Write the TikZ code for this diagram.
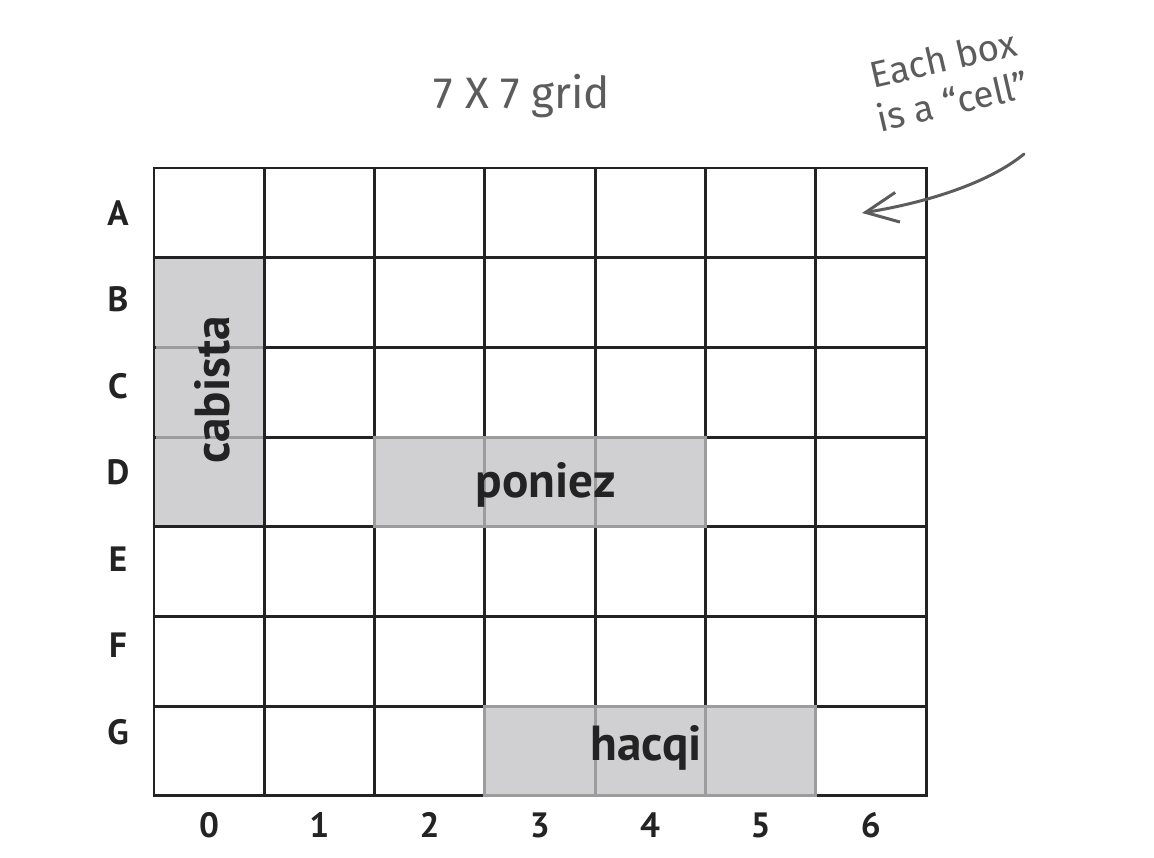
\documentclass[tikz,border=0pt]{standalone}
\usepackage{fontspec}
\setmainfont{PT Sans}
\newfontfamily\handfont{Fira Sans}
\usetikzlibrary{arrows.meta, positioning}
\definecolor{cellgray}{HTML}{D0D0D2}
\definecolor{edgegray}{HTML}{9C9C9C}
\definecolor{inkgray}{HTML}{5C5C5C}
\definecolor{gridink}{HTML}{232323}

\begin{document}
\begin{tikzpicture}[
    x=0.02cm, y=-0.02cm,
    gridline/.style={draw=gridink, line width=1.6pt},
    shipedge/.style={draw=edgegray, line width=1.6pt},
    axislabel/.style={font=\fontsize{20}{24}\selectfont\bfseries, text=gridink},
    word/.style={font=\fontsize{28}{32}\selectfont\bfseries, text=gridink},
    handnote/.style={font=\handfont\fontsize{21}{25}\selectfont, text=inkgray, align=center},
    >={Straight Barb[length=6.5mm, width=6mm]}
]

% Canvas
\useasboundingbox (0,0) rectangle (1154,858);

% Shaded cells (column/row)
\foreach \c/\r in {0/1, 0/2, 0/3, 2/3, 3/3, 4/3, 3/6, 4/6, 5/6}
    \fill[cellgray] (154+110.3*\c,168+89.7*\r) rectangle (264.3+110.3*\c,257.7+89.7*\r);

% Grid lines
\foreach \i in {0,...,7}
    \draw[gridline, line cap=rect] (154+110.3*\i,168) -- (154+110.3*\i,796);
\foreach \j in {0,...,7}
    \draw[gridline, line cap=rect] (154,168+89.7*\j) -- (926,168+89.7*\j);

% Borders of the shaded cells
\foreach \c/\r in {2/3, 3/3, 4/3, 3/6, 4/6, 5/6}
    \draw[shipedge] (154+110.3*\c,168+89.7*\r) rectangle (264.3+110.3*\c,257.7+89.7*\r);
\foreach \r in {2,3}
    \draw[shipedge] (156,168+89.7*\r) -- (263,168+89.7*\r);

% Words placed in the grid
\node[word, rotate=90] (cabista) at (212,390) {cabista};
\node[word] (poniez) at (546,485) {poniez};
\node[word] (hacqi) at (646,748) {hacqi};

% Row letters
\foreach \l [count=\k from 0] in {A,B,C,D,E,F,G}
    \node[axislabel] (row\l) at (118,213+86.5*\k) {\l};

% Column numbers
\foreach \n in {0,...,6}
    \node[axislabel] (col\n) at (209+110.3*\n,825) {\n};

% Notes
\node[handnote, font=\handfont\fontsize{25}{28}\selectfont] (title) at (522,96) {7 X 7 grid};
\node[handnote, rotate=13] (cellnote) at (948,80) {Each box\\is a “cell”};

\coordinate (tail) at (1024,154);
\coordinate (tip) at (862,213);
\draw[->, inkgray, line width=1.7pt, line cap=round] (tail) .. controls (990,182) and (930,202) .. (tip);

\end{tikzpicture}
\end{document}
